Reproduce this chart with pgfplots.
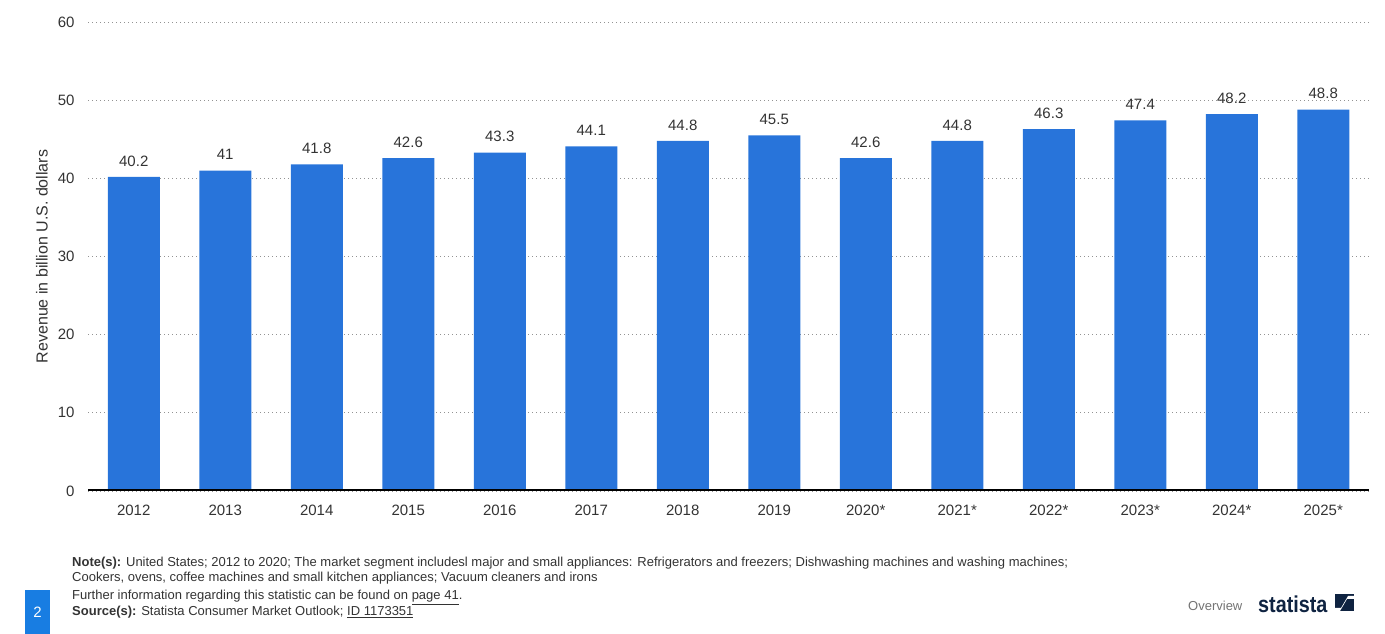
\documentclass[border=0pt]{standalone}
\usepackage{pgfplots}
\pgfplotsset{compat=1.18}
\usepackage{fontspec}
\setmainfont{Liberation Sans}
\definecolor{barblue}{RGB}{40,116,218}
\definecolor{txt}{RGB}{51,51,51}
\definecolor{navy}{RGB}{15,35,65}
\definecolor{boxblue}{RGB}{24,125,226}
\pgfplotstableread{
x y
0 40.2
1 41
2 41.8
3 42.6
4 43.3
5 44.1
6 44.8
7 45.5
8 42.6
9 44.8
10 46.3
11 47.4
12 48.2
13 48.8
}\revenue
\begin{document}
\begin{tikzpicture}[x=1pt,y=1pt]
\path[use as bounding box] (0,0) rectangle (1385,634);
\begin{axis}[
  at={(88pt,143pt)}, anchor=south west,
  scale only axis, width=1281pt, height=469pt,
  xmin=-0.5, xmax=13.5, ymin=0, ymax=60,
  axis line style={draw=none},
  ybar, bar width=52pt,
  xtick={0,...,13},
  xticklabels={2012,2013,2014,2015,2016,2017,2018,2019,2020*,2021*,2022*,2023*,2024*,2025*},
  ytick={0,10,...,60},
  major tick length=0pt,
  ymajorgrids,
  grid style={draw=gray!85, line width=0.8pt, dash pattern=on 1pt off 3pt},
  /pgf/number format/assume math mode=true,
  ticklabel style={font=\fontsize{15}{15}\selectfont, text=txt},
  yticklabel style={xshift=-10pt},
  xticklabel style={yshift=-10pt},
  ylabel={Revenue in billion U.S. dollars},
  ylabel style={at={(axis description cs:0,0.5)}, anchor=center, rotate=0, yshift=46pt, font=\fontsize{16}{16}\selectfont, text=txt},
  nodes near coords,
  nodes near coords style={font=\fontsize{15}{15}\selectfont, text=txt, anchor=south, yshift=7pt},
]
\addplot[fill=barblue, draw=none] table[x=x, y=y] {\revenue};
\draw[line width=3pt, black] (axis cs:-0.5,0) -- (axis cs:13.5,0);
\end{axis}
% footer
\begin{scope}[every node/.style={anchor=base west, inner sep=0pt, text=txt, font=\fontsize{13}{13}\selectfont}]
\node at (72,67) {\textbf{Note(s):} United States; 2012 to 2020; The market segment includesl major and small appliances: Refrigerators and freezers; Dishwashing machines and washing machines;};
\node at (72,52) {Cookers, ovens, coffee machines and small kitchen appliances; Vacuum cleaners and irons};
\node at (72,34) {Further information regarding this statistic can be found on \underline{page 41}.};
\node at (72,18) {\textbf{Source(s):} Statista Consumer Market Outlook; \underline{ID 1173351}};
\end{scope}
\fill[boxblue] (25,0) rectangle (50,44);
\node[text=white, font=\fontsize{15}{15}\selectfont] at (37.5,22) {2};
\node[text=gray!90!black, font=\fontsize{13}{13}\selectfont, anchor=west, inner sep=0pt] at (1188,28) {Overview};
\node[text=navy, font=\bfseries\fontsize{23}{23}\selectfont, anchor=west, inner sep=0pt, xscale=0.86] at (1258,30) {statista};
\fill[navy] (1335,23) rectangle (1354,40);
\fill[white] (1335,23) -- (1340,23) -- (1347,35) -- (1354,35) -- (1354,38) -- (1348,38) -- (1341,26) -- (1335,26) -- cycle;
\end{tikzpicture}
\end{document}
